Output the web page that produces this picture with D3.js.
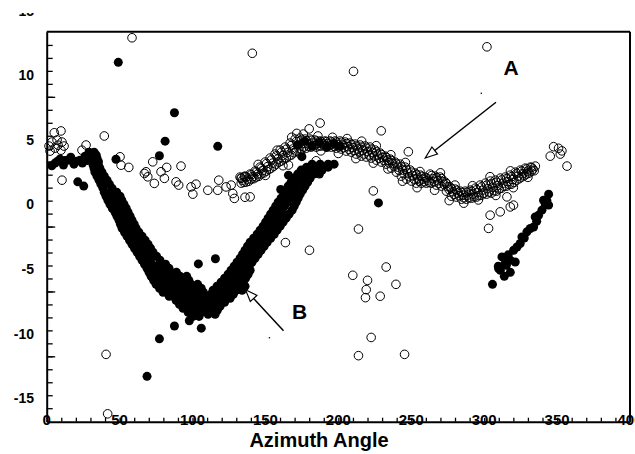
<!DOCTYPE html>
<html><head><meta charset="utf-8">
<script src="https://cdn.jsdelivr.net/npm/d3@7"></script>
<style>
body{margin:0;background:#fff}
svg{display:block}
text{font-family:"Liberation Sans",Arial,sans-serif;font-weight:bold;fill:#000}
</style>
</head><body>
<svg id="c" width="635" height="454"></svg>
<script>
// ---------------- DATA (azimuth, value) ----------------
// Series A (open circles): main band
const bandA = [
[132.6,2.12],[134.3,1.88],[133.4,1.65],[136.0,2.19],[137.7,1.96],[136.8,1.73],
[139.5,2.35],[141.2,2.15],[140.3,1.96],[142.9,2.58],[144.6,2.35],[143.7,2.12],
[146.3,2.89],[148.0,2.62],[147.1,2.35],[149.8,3.28],[151.5,2.93],[150.6,2.58],
[153.2,3.59],[154.9,3.20],[154.0,2.81],[156.6,3.90],[158.3,3.51],[157.4,3.12],
[160.1,4.21],[161.8,3.78],[160.9,3.36],[163.5,4.44],[165.2,4.02],[164.3,3.59],
[166.9,4.75],[168.6,4.29],[167.7,3.82],[170.4,5.06],[172.1,4.60],[171.2,4.13],
[173.8,5.14],[175.5,4.71],[174.6,4.29],[177.2,5.06],[178.9,4.71],[178.0,4.36],
[180.6,5.06],[182.3,4.75],[181.4,4.44],[184.1,4.98],[185.8,4.71],[184.9,4.44],
[187.5,4.91],[189.2,4.71],[188.3,4.52],[190.9,4.91],[192.6,4.71],[191.7,4.52],
[194.4,4.91],[196.1,4.67],[195.2,4.44],[197.8,4.91],[199.5,4.64],[198.6,4.36],
[201.2,4.91],[202.9,4.60],[202.0,4.29],[204.7,4.83],[206.4,4.48],[205.5,4.13],
[208.1,4.75],[209.8,4.40],[208.9,4.05],[211.5,4.67],[213.2,4.29],[212.3,3.90],
[215.0,4.60],[216.7,4.17],[215.8,3.74],[218.4,4.52],[220.1,4.09],[219.2,3.67],
[221.8,4.44],[223.5,4.02],[222.6,3.59],[225.3,4.21],[227.0,3.82],[226.1,3.43],
[228.7,3.98],[230.4,3.63],[229.5,3.28],[232.1,3.74],[233.8,3.43],[232.9,3.12],
[235.6,3.51],[237.3,3.16],[236.4,2.81],[239.0,3.28],[240.7,2.89],[239.8,2.50],
[242.4,3.12],[244.1,2.66],[243.2,2.19],[245.9,2.89],[247.6,2.43],[246.7,1.96],
[249.3,2.66],[251.0,2.23],[250.1,1.81],[252.7,2.43],[254.4,2.04],[253.5,1.65],
[256.2,2.27],[257.9,1.96],[257.0,1.65],[259.6,2.12],[261.3,1.88],[260.4,1.65],
[263.0,2.35],[264.7,2.00],[263.8,1.65],[266.4,2.19],[268.1,1.84],[267.2,1.50],
[269.9,2.12],[271.6,1.77],[270.7,1.42],[273.3,1.73],[275.0,1.38],[274.1,1.03],
[276.7,1.34],[278.4,0.99],[277.5,0.64],[280.2,1.19],[281.9,0.88],[281.0,0.57],
[283.6,1.03],[285.3,0.72],[284.4,0.41],[287.0,1.03],[288.7,0.72],[287.8,0.41],
[290.5,1.11],[292.2,0.80],[291.3,0.49],[293.9,1.26],[295.6,0.91],[294.7,0.57],
[297.3,1.50],[299.0,1.11],[298.1,0.72],[300.8,1.65],[302.5,1.22],[301.6,0.80],
[304.2,1.81],[305.9,1.34],[305.0,0.88],[307.6,1.88],[309.3,1.46],[308.4,1.03],
[311.1,2.04],[312.8,1.65],[311.9,1.26],[314.5,2.12],[316.2,1.77],[315.3,1.42],
[317.9,2.27],[319.6,1.92],[318.7,1.57],[321.4,2.50],[323.1,2.19],[322.2,1.88],
[324.8,2.66],[326.5,2.39],[325.6,2.12],[328.2,2.81],[329.9,2.58],[329.0,2.35],
[331.7,2.89],[333.4,2.73],[332.5,2.58],[335.1,2.97]
];
// Series A (open circles): further band points between the rows above
const bandA2 = [
[133.5,2.05],[135.2,1.71],[136.9,2.13],[138.6,1.80],[140.4,2.30],[142.1,2.00],[143.8,2.52],[145.5,2.18],
[147.2,2.81],[148.9,2.44],[150.7,3.16],[152.4,2.71],[154.1,3.45],[155.8,2.96],[157.5,3.76],[159.2,3.27],
[161.0,4.05],[162.7,3.52],[164.4,4.28],[166.1,3.76],[167.8,4.57],[169.5,4.01],[171.3,4.88],[173.0,4.32],
[174.7,4.98],[176.4,4.45],[178.1,4.94],[179.8,4.49],[181.5,4.96],[183.2,4.55],[185.0,4.90],[186.7,4.53],
[188.4,4.86],[190.1,4.57],[191.8,4.86],[193.5,4.57],[195.3,4.84],[197.0,4.51],[198.7,4.83],[200.4,4.45],
[202.1,4.81],[203.8,4.40],[205.6,4.71],[207.3,4.26],[209.0,4.63],[210.7,4.18],[212.4,4.53],[214.1,4.05],
[215.9,4.44],[217.6,3.91],[219.3,4.36],[221.0,3.83],[222.7,4.28],[224.4,3.76],[226.2,4.07],[227.9,3.58],
[229.6,3.86],[231.3,3.41],[233.0,3.64],[234.7,3.23],[236.5,3.39],[238.2,2.94],[239.9,3.14],[241.6,2.65],
[243.3,2.94],[245.0,2.38],[246.8,2.71],[248.5,2.15],[250.2,2.50],[251.9,1.97],[253.6,2.29],[255.3,1.80],
[257.1,2.17],[258.8,1.76],[260.5,2.05],[262.2,1.71],[263.9,2.23],[265.6,1.78],[267.3,2.07],[269.0,1.62],
[270.8,2.00],[272.5,1.55],[274.2,1.61],[275.9,1.16],[277.6,1.22],[279.3,0.77],[281.1,1.09],[282.8,0.68],
[284.5,0.93],[286.2,0.52],[287.9,0.93],[289.6,0.52],[291.4,1.01],[293.1,0.60],[294.8,1.14],[296.5,0.69],
[298.2,1.36],[299.9,0.87],[301.7,1.49],[303.4,0.96],[305.1,1.63],[306.8,1.06],[308.5,1.72],[310.2,1.20],
[312.0,1.90],[313.7,1.41],[315.4,2.00],[317.1,1.55],[318.8,2.15],[320.5,1.70],[322.3,2.40],[324.0,1.99],
[325.7,2.58],[327.4,2.21],[329.1,2.75],[330.8,2.42],[332.6,2.86],[334.3,2.61],
[145.0,3.10],[158.0,4.20],[168.0,5.20],[176.0,5.45],[186.0,5.30],[196.0,5.20],[206.0,5.10],[216.0,4.90],
[226.0,4.55],[236.0,3.85],[246.0,3.25],[256.0,2.55],[270.0,2.45],[280.0,1.50],[292.0,1.45],[304.0,2.15],
[318.0,2.60],[150.0,2.25],[162.0,3.00],[174.0,3.90],[188.0,4.15],[200.0,3.95],[212.0,3.55],[224.0,3.20],
[234.0,2.75],[244.0,1.80],[254.0,1.30],[266.0,1.10],[276.0,0.30],[286.0,0.10],[296.0,0.35],[308.0,0.70],
[320.0,1.30],[330.0,2.10]
];
// Series A (open circles): scattered points
const scatterA = [
[1.6,4.52],[3.6,4.83],[5.7,4.36],[7.8,4.59],[9.8,4.20],[11.9,4.52],[2.3,4.13],[7.1,4.99],
[10.5,4.83],[5.2,5.55],[9.8,5.69],[10.5,1.88],[24.2,4.20],[27.0,4.60],[39.5,5.30],[58.5,12.9],
[50.3,3.69],[51.0,3.04],[56.3,2.87],[67.0,2.40],[68.1,2.53],[69.3,2.14],[72.7,3.30],[73.8,1.63],
[80.7,2.02],[82.3,2.87],[78.4,2.53],[92.1,2.97],[88.7,1.75],[90.5,1.50],[99.0,1.36],[100.2,0.80],
[102.4,1.57],[110.5,1.10],[118.0,1.88],[117.3,1.10],[123.0,1.36],[126.5,1.50],[127.6,0.85],
[128.7,0.47],[133.3,2.02],[135.6,2.14],
[141.0,11.7],[210.4,10.3],[229.4,5.70],[187.5,6.30],[248.0,4.08],[224.0,1.05],[184.8,3.38],
[165.8,3.05],[139.5,0.59],[136.0,0.56],[180.0,5.85],[171.5,5.50],
[301.9,12.2],[304.1,-0.83],[311.0,-0.57],[303.0,-1.85],[320.1,-0.05],[317.9,-0.19],[315.6,0.59],
[347.6,4.47],[345.3,3.74],[353.3,4.15],[352.2,3.90],[351.0,4.35],[356.8,2.97],
[213.8,-1.90],[232.8,-4.84],[209.9,-5.48],[220.0,-5.87],[219.1,-6.59],[218.6,-7.21],[228.7,-7.10],
[239.5,-6.18],[222.5,-10.29],[213.8,-11.7],[245.4,-11.6],
[40.7,-11.6],[163.7,-2.95],[180.2,-3.54],[41.8,-16.2]
];
// Series B (filled circles): main V-shaped band
const bandB = [
[29.0,4.05],[32.5,4.05],[30.4,3.59],[34.5,3.59],[31.8,3.05],[35.5,3.05],[33.1,2.50],[37.9,2.50],
[35.9,1.88],[41.4,1.88],[38.6,1.26],[44.8,1.26],[40.7,0.64],[46.2,0.64],[50.3,0.64],
[43.4,0.02],[48.9,0.02],[53.0,0.02],[46.9,-0.60],[51.7,-0.60],[55.8,-0.60],
[49.6,-1.22],[54.4,-1.22],[58.5,-1.22],[51.7,-1.84],[56.5,-1.84],[61.3,-1.84],
[55.1,-2.46],[59.9,-2.46],[65.4,-2.46],[58.5,-3.08],[63.3,-3.08],[69.5,-3.08],
[62.0,-3.70],[67.4,-3.70],[72.9,-3.70],[65.4,-4.32],[70.9,-4.32],[77.7,-4.32],
[68.8,-4.94],[73.6,-4.94],[78.4,-4.94],[83.9,-4.94],
[71.6,-5.56],[76.4,-5.56],[81.2,-5.56],[86.0,-5.56],[91.5,-5.56],[96.0,-5.56],
[75.0,-6.18],[79.8,-6.18],[84.6,-6.18],[89.4,-6.18],[94.2,-6.18],[99.0,-6.18],[103.5,-6.18],
[79.8,-6.80],[84.6,-6.80],[89.4,-6.80],[94.2,-6.80],[99.0,-6.80],[103.8,-6.80],[107.5,-6.80],
[88.7,-7.42],[93.5,-7.42],[98.3,-7.42],[103.1,-7.42],[107.2,-7.42],
[93.5,-8.04],[98.3,-8.04],[103.1,-8.04],[107.2,-8.04],[100.4,-8.66],[104.5,-8.66],
[110.7,-8.50],[115.5,-8.50],[110.7,-7.88],[114.8,-7.88],[118.9,-7.88],
[111.4,-7.26],[116.2,-7.26],[121.6,-7.26],[125.8,-7.26],
[114.1,-6.64],[118.9,-6.64],[124.4,-6.64],[129.9,-6.64],[134.0,-6.64],
[119.6,-6.02],[124.4,-6.02],[129.2,-6.02],[134.7,-6.02],
[124.4,-5.40],[129.2,-5.40],[134.0,-5.40],[138.1,-5.40],
[128.5,-4.78],[133.3,-4.78],[138.8,-4.78],[132.6,-4.16],[137.4,-4.16],[142.9,-4.16],
[136.0,-3.54],[140.9,-3.54],[147.0,-3.54],[139.5,-2.92],[145.0,-2.92],[151.2,-2.92],
[144.3,-2.30],[149.8,-2.30],[156.0,-2.30],[148.4,-1.68],[153.9,-1.68],[160.1,-1.68],
[151.8,-1.06],[158.0,-1.06],[164.2,-1.06],[155.3,-0.44],[161.4,-0.44],[168.3,-0.44],
[158.7,0.18],[164.9,0.18],[171.1,0.18],[162.8,0.80],[168.3,0.80],[173.8,0.80],
[165.6,1.42],[171.1,1.42],[177.2,1.42],[169.7,2.04],[175.2,2.04],[180.7,2.04],
[174.5,2.66],[180.0,2.66],[185.5,2.66],[188.9,2.66],
[182.0,3.12],[187.5,3.12],[193.0,3.12],[197.1,3.12]
];
// Series B (filled circles): further band points between the rows above
const bandB2 = [
[30.5,3.82],[34.0,3.82],[31.5,3.32],[35.5,3.32],[32.5,2.78],[36.5,2.78],[34.5,2.19],[39.5,2.19],
[37.2,1.57],[43.0,1.57],[39.5,0.95],[44.0,0.95],[48.0,0.95],[42.0,0.33],[47.5,0.33],[51.5,0.33],
[45.0,-0.29],[50.2,-0.29],[54.5,-0.29],[48.2,-0.91],[53.0,-0.91],[57.2,-0.91],
[50.6,-1.53],[55.5,-1.53],[60.0,-1.53],[53.4,-2.15],[58.2,-2.15],[63.2,-2.15],
[56.8,-2.77],[61.6,-2.77],[67.5,-2.77],[60.2,-3.39],[65.3,-3.39],[71.2,-3.39],
[63.7,-4.01],[69.0,-4.01],[75.3,-4.01],[67.1,-4.63],[72.2,-4.63],[77.5,-4.63],[81.5,-4.63],
[70.2,-5.25],[75.0,-5.25],[79.8,-5.25],[85.0,-5.25],[89.0,-5.25],
[73.3,-5.87],[78.1,-5.87],[82.9,-5.87],[87.7,-5.87],[92.8,-5.87],[97.5,-5.87],
[77.4,-6.49],[82.2,-6.49],[87.0,-6.49],[91.8,-6.49],[96.6,-6.49],[101.4,-6.49],[106.0,-6.49],
[84.0,-7.11],[89.0,-7.11],[94.0,-7.11],[98.7,-7.11],[103.5,-7.11],[108.0,-7.11],
[91.0,-7.73],[96.0,-7.73],[100.7,-7.73],[105.2,-7.73],[109.0,-7.73],[97.0,-8.35],[101.8,-8.35],[106.0,-8.35],
[112.5,-8.19],[117.0,-8.19],[112.5,-7.57],[117.5,-7.57],[122.0,-7.57],
[112.8,-6.95],[117.6,-6.95],[123.0,-6.95],[128.0,-6.95],
[116.8,-6.33],[121.6,-6.33],[126.8,-6.33],[132.3,-6.33],[136.0,-6.33],
[122.0,-5.71],[126.8,-5.71],[131.6,-5.71],[136.4,-5.71],[126.4,-5.09],[131.2,-5.09],[136.4,-5.09],[139.5,-5.09],
[130.5,-4.47],[135.3,-4.47],[140.8,-4.47],[134.3,-3.85],[139.2,-3.85],[145.0,-3.85],
[137.7,-3.23],[143.0,-3.23],[149.1,-3.23],[141.9,-2.61],[147.4,-2.61],[153.6,-2.61],
[146.3,-1.99],[151.8,-1.99],[158.0,-1.99],[150.1,-1.37],[156.0,-1.37],[162.1,-1.37],
[153.5,-0.75],[159.7,-0.75],[166.2,-0.75],[157.0,-0.13],[163.1,-0.13],[169.7,-0.13],
[160.7,0.49],[166.6,0.49],[172.4,0.49],[164.2,1.11],[169.7,1.11],[175.5,1.11],
[167.6,1.73],[173.1,1.73],[179.0,1.73],[172.1,2.35],[177.6,2.35],[183.1,2.35],[187.0,2.35],
[178.2,2.89],[183.7,2.89],[189.2,2.89],[193.0,2.89]
];
// Series B (filled circles): segment on the right
const segmentB = [
[305.7,-6.18],[309.9,-4.96],[312.2,-4.06],[314.4,-4.57],[317.9,-4.32],[321.3,-4.45],[320.2,-3.54],
[322.5,-3.29],[324.7,-3.02],[325.9,-2.51],[329.3,-2.12],[331.6,-1.86],[333.9,-1.74],[335.0,-0.96],
[337.3,-0.83],[339.6,-0.44],[341.9,-0.05],[344.2,-0.05],[344.2,0.80],[340.7,0.33],[311.1,-5.09],
[313.8,-5.56],[317.9,-5.25],[315.2,-4.70],[309.7,-4.78],[316.5,-3.90],[327.5,-2.60],[336.0,-1.30],
[343.0,0.30]
];
// Series B (filled circles): scattered points
const scatterB = [
[3.5,3.00],[5.7,3.20],[7.5,3.35],[9.1,3.51],[11.5,3.05],[12.5,3.40],[14.6,3.43],[16.5,3.65],
[18.7,3.12],[20.5,3.35],[22.8,3.43],[24.5,3.20],[26.3,3.74],[28.0,3.40],[21.3,1.75],[25.4,1.42],
[49.1,11.0],[87.6,7.10],[81.2,4.90],[77.3,3.77],[117.3,4.50],[47.5,3.50],[104.0,-4.60],
[115.7,-4.20],[87.6,-9.40],[77.3,-10.4],[68.8,-13.3],[106.0,-9.57],[97.8,-9.00],[227.5,0.12],
[165.8,2.27],[160.5,1.16],[175.0,3.70],
[172.0,4.60],[177.0,4.90],[182.0,4.50],[187.0,4.80],[192.0,4.40],[197.0,4.70],[201.0,4.50]
];
// Axis tick labels
const xTickLabels = [0,50,100,150,200,250,300,350,400];
const yTickLabels = [15,10,5,0,-5,-10,-15];
// Annotations (in data units)
const annotations = [
  {label:"A", text:[318.4,10.02], tail:[308.1,7.91], tip:[259.6,3.60], dot:[298.0,8.61]},
  {label:"B", text:[173.4,-8.86], tail:[162.4,-9.77], tip:[136.3,-6.59], dot:[152.7,-10.31]}
];

// ---------------- CHART ----------------
const svg = d3.select("#c");
const L = 46.7, R = 630, T = 31.7, B = 421.7;
const x = d3.scaleLinear().domain([0,400]).range([L,R]);
const y = d3.scaleLinear().domain([-16.81,13.37]).range([B,T]);

const yMinor = d3.range(-4,25).map(k => 8.33 - 1.004*k);
const yMajor = d3.range(0,5).map(k => 8.33 - 5.02*k);

// open circles
svg.append("g").selectAll("circle").data(bandA.concat(bandA2, scatterA)).join("circle")
  .attr("cx", d => x(d[0])).attr("cy", d => y(d[1])).attr("r", 4.3)
  .attr("fill","none").attr("stroke","#000").attr("stroke-width",1);
// filled circles
svg.append("g").selectAll("circle").data(bandB.concat(bandB2, segmentB, scatterB)).join("circle")
  .attr("cx", d => x(d[0])).attr("cy", d => y(d[1])).attr("r", 4.5)
  .attr("fill","#000");

// axes
const gx = svg.append("g").attr("transform",`translate(0,${B})`)
  .call(d3.axisBottom(x).tickValues(d3.range(0,401,10)).tickSize(-4).tickSizeOuter(0).tickFormat(""));
const gy = svg.append("g").attr("transform",`translate(${L},0)`)
  .call(d3.axisLeft(y).tickValues(yMinor).tickSize(-6).tickSizeOuter(0).tickFormat(""));
const gy2 = svg.append("g").attr("transform",`translate(${L},0)`)
  .call(d3.axisLeft(y).tickValues(yMajor).tickSize(-8.5).tickSizeOuter(0).tickFormat(""));
gy2.select(".domain").remove();
[gx,gy,gy2].forEach(g => {
  g.selectAll("line").attr("stroke","#000").attr("stroke-width",1.3);
  g.select(".domain").attr("stroke","#000").attr("stroke-width",2);
});
svg.append("line").attr("x1",L).attr("x2",R).attr("y1",T).attr("y2",T).attr("stroke","#000").attr("stroke-width",2);
svg.append("line").attr("x1",R).attr("x2",R).attr("y1",T).attr("y2",B).attr("stroke","#000").attr("stroke-width",2);

// x labels (sit on the axis line)
svg.append("g").selectAll("text").data(xTickLabels).join("text")
  .attr("x", d => x(d)).attr("y", B+3.5).attr("text-anchor","middle")
  .attr("font-size",15).text(d => d);
// y labels
svg.append("g").selectAll("text").data(yTickLabels).join("text")
  .attr("x", 34).attr("y", d => y(d)+5).attr("text-anchor","end")
  .attr("font-size",14).text(d => d);
// top strip is cropped in the reference
svg.append("rect").attr("x",0).attr("y",0).attr("width",635).attr("height",13).attr("fill","#fff");

// axis title
svg.append("text").attr("x",319).attr("y",447).attr("text-anchor","middle")
  .attr("font-size",20).text("Azimuth Angle");

// annotations
annotations.forEach(a => {
  const tx = x(a.tip[0]), ty = y(a.tip[1]);
  const sx = x(a.tail[0]), sy = y(a.tail[1]);
  const ang = Math.atan2(ty - sy, tx - sx);
  const hl = 12, hw = 4.5;
  const bx = tx - hl*Math.cos(ang), by = ty - hl*Math.sin(ang);
  svg.append("line").attr("x1",sx).attr("y1",sy).attr("x2",bx).attr("y2",by)
    .attr("stroke","#000").attr("stroke-width",1.5);
  const p1 = [bx + hw*Math.sin(ang), by - hw*Math.cos(ang)];
  const p2 = [bx - hw*Math.sin(ang), by + hw*Math.cos(ang)];
  svg.append("path").attr("d",`M${tx},${ty}L${p1[0]},${p1[1]}L${p2[0]},${p2[1]}Z`)
    .attr("fill","#fff").attr("stroke","#000").attr("stroke-width",1.2);
  svg.append("text").attr("x",x(a.text[0])).attr("y",y(a.text[1])).attr("text-anchor","middle")
    .attr("font-size",21).text(a.label);
  svg.append("rect").attr("x",x(a.dot[0])-0.6).attr("y",y(a.dot[1])-0.6).attr("width",1.3).attr("height",1.3).attr("fill","#000");
});
</script>
</body></html>
